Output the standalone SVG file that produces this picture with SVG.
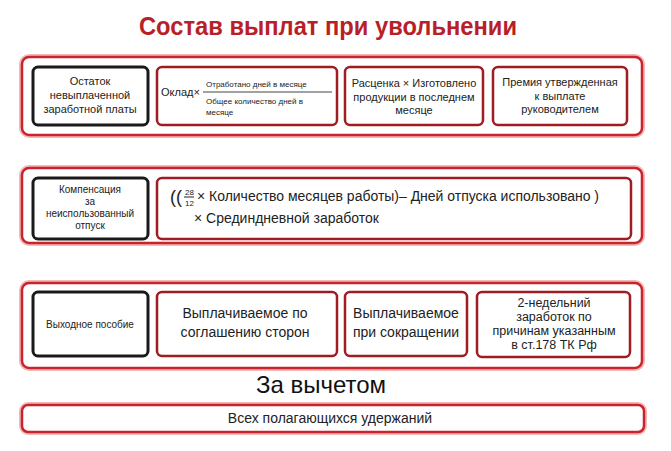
<svg xmlns="http://www.w3.org/2000/svg" width="671" height="451" viewBox="0 0 671 451">
<style>
text{font-family:"Liberation Sans",Arial,sans-serif;fill:#222}
.band{fill:#fff;stroke:#c9232b;stroke-width:2.5}
.glow{fill:none;stroke:#f2b8bb;stroke-width:6}
.box{fill:#fff;stroke:#9e1c22;stroke-width:2.5}
.bk{fill:#fff;stroke:#1a1a1a;stroke-width:3}
.t{font-size:11px;text-anchor:middle}
.m{font-size:14px;text-anchor:middle}
</style>
<rect width="671" height="451" fill="#fff"/>
<text x="328" y="35" style="font-size:26px;font-weight:bold;fill:#b81f28" text-anchor="middle" textLength="378" lengthAdjust="spacingAndGlyphs">Состав выплат при увольнении</text>
<g id="band1">
<rect class="glow" x="22" y="57" width="620" height="78" rx="7"/>
<rect class="band" x="22" y="57" width="620" height="78" rx="7"/>
</g>
<g id="n1"><rect class="bk" x="33" y="67" width="115" height="58" rx="5"/><text class="t" x="90" y="85">Остаток</text><text class="t" x="90" y="99">невыплаченной</text><text class="t" x="90" y="113">заработной платы</text></g>
<g id="n2"><rect class="box" x="157" y="67" width="180" height="58" rx="5"/><text x="161" y="96" style="font-size:11px">Оклад×</text><line x1="203" y1="92" x2="332" y2="92" stroke="#444" stroke-width="1"/><text x="206" y="87" style="font-size:8px">Отработано дней в месяце</text><text x="206" y="104" style="font-size:8px">Общее количество  дней в</text><text x="206" y="115" style="font-size:8px">месяце</text></g>
<g id="n3"><rect class="box" x="345" y="67" width="138" height="58" rx="5"/><text class="t" x="414" y="87">Расценка × Изготовлено</text><text class="t" x="414" y="101">продукции в последнем</text><text class="t" x="414" y="114">месяце</text></g>
<g id="n4"><rect class="box" x="493" y="67" width="134" height="58" rx="5"/><text class="t" x="560" y="86">Премия утвержденная</text><text class="t" x="560" y="100">к выплате</text><text class="t" x="560" y="113">руководителем</text></g>
<g id="band2">
<rect class="glow" x="22" y="168" width="620" height="75" rx="7"/>
<rect class="band" x="22" y="168" width="620" height="75" rx="7"/>
</g>
<g id="n5"><rect class="bk" x="33" y="178" width="115" height="61" rx="5"/><text class="t" x="90" y="193" style="font-size:10px">Компенсация</text><text class="t" x="90" y="205" style="font-size:10px">за</text><text class="t" x="90" y="217" style="font-size:10px">неиспользованный</text><text class="t" x="90" y="229" style="font-size:10px">отпуск</text></g>
<g id="n6"><rect class="box" x="157" y="178" width="474" height="61" rx="5"/>
<text x="170" y="203" style="font-size:18px">((</text>
<text x="185" y="195" style="font-size:8px">28</text><line x1="184" y1="197" x2="194" y2="197" stroke="#222"/><text x="185" y="206" style="font-size:8px">12</text>
<text x="197" y="201" style="font-size:14px" textLength="402" lengthAdjust="spacingAndGlyphs">× Количество месяцев работы)– Дней отпуска использовано )</text>
<text x="194" y="223" style="font-size:14px">× Срединдневной заработок</text></g>
<g id="band3">
<rect class="glow" x="22" y="283" width="620" height="85" rx="7"/>
<rect class="band" x="22" y="283" width="620" height="85" rx="7"/>
</g>
<g id="n7"><rect class="bk" x="33" y="292" width="115" height="64" rx="5"/><text class="t" x="90" y="328" style="font-size:10px">Выходное пособие</text></g>
<g id="n8"><rect class="box" x="157" y="292" width="180" height="64" rx="5"/><text class="m" x="245" y="318">Выплачиваемое по</text><text class="m" x="245" y="337">соглашению сторон</text></g>
<g id="n9"><rect class="box" x="345" y="292" width="122" height="64" rx="5"/><text class="m" x="406" y="318">Выплачиваемое</text><text class="m" x="406" y="337">при сокращении</text></g>
<g id="n10"><rect class="box" x="477" y="292" width="153" height="65" rx="5"/><text class="t" x="554" y="307" style="font-size:12.5px">2-недельний</text><text class="t" x="554" y="321" style="font-size:12.5px">заработок  по</text><text class="t" x="554" y="335" style="font-size:12.5px">причинам указанным</text><text class="t" x="554" y="349" style="font-size:12.5px">в ст.178 ТК Рф</text></g>
<text x="321" y="393" text-anchor="middle" style="font-size:24px;fill:#111">За вычетом</text>
<g id="band4">
<rect class="glow" x="22" y="405" width="622" height="27" rx="6"/>
<rect class="band" x="22" y="405" width="622" height="27" rx="6"/>
<text class="m" x="330" y="423">Всех полагающихся удержаний</text>
</g>
<g id="connectors"/>
</svg>
